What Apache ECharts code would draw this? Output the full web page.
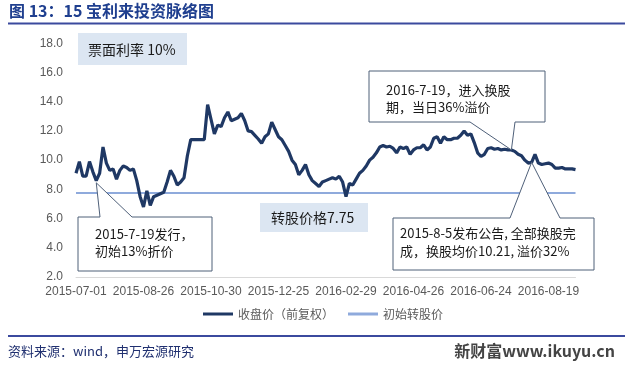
<!DOCTYPE html>
<html><head><meta charset="utf-8">
<script src="https://cdn.jsdelivr.net/npm/echarts@6/dist/echarts.min.js"></script>
<style>html,body{margin:0;padding:0;background:#fff}#c{width:633px;height:367px}</style>
</head><body><div id="c"></div>
<script>
// trading dates (every second trading day)
const dates = [
"2015-07-01","2015-07-03","2015-07-07","2015-07-09","2015-07-13","2015-07-15","2015-07-17","2015-07-21","2015-07-23","2015-07-27",
"2015-07-29","2015-07-31","2015-08-04","2015-08-06","2015-08-10","2015-08-12","2015-08-14","2015-08-18","2015-08-20","2015-08-24",
"2015-08-26","2015-08-28","2015-09-01","2015-09-07","2015-09-09","2015-09-11","2015-09-15","2015-09-17","2015-09-21","2015-09-23",
"2015-09-25","2015-09-29","2015-10-08","2015-10-12","2015-10-14","2015-10-16","2015-10-20","2015-10-22","2015-10-26","2015-10-28",
"2015-10-30","2015-11-03","2015-11-05","2015-11-09","2015-11-11","2015-11-13","2015-11-17","2015-11-19","2015-11-23","2015-11-25",
"2015-11-27","2015-12-01","2015-12-03","2015-12-07","2015-12-09","2015-12-11","2015-12-15","2015-12-17","2015-12-21","2015-12-23",
"2015-12-25","2015-12-29","2015-12-31","2016-01-05","2016-01-07","2016-01-11","2016-01-13","2016-01-15","2016-01-19","2016-01-21",
"2016-01-25","2016-01-27","2016-01-29","2016-02-02","2016-02-04","2016-02-15","2016-02-17","2016-02-19","2016-02-23","2016-02-25",
"2016-02-29","2016-03-02","2016-03-04","2016-03-08","2016-03-10","2016-03-14","2016-03-16","2016-03-18","2016-03-22","2016-03-24",
"2016-03-28","2016-03-30","2016-04-01","2016-04-06","2016-04-08","2016-04-12","2016-04-14","2016-04-18","2016-04-20","2016-04-22",
"2016-04-26","2016-04-28","2016-05-03","2016-05-05","2016-05-09","2016-05-11","2016-05-13","2016-05-17","2016-05-19","2016-05-23",
"2016-05-25","2016-05-27","2016-05-31","2016-06-02","2016-06-06","2016-06-08","2016-06-14","2016-06-16","2016-06-20","2016-06-22",
"2016-06-24","2016-06-28","2016-06-30","2016-07-04","2016-07-06","2016-07-08","2016-07-12","2016-07-14","2016-07-18","2016-07-20",
"2016-07-22","2016-07-26","2016-07-28","2016-08-01","2016-08-03","2016-08-05","2016-08-09","2016-08-11","2016-08-15","2016-08-17",
"2016-08-19","2016-08-23","2016-08-25","2016-08-29","2016-08-31","2016-09-02","2016-09-06","2016-09-08","2016-09-12"
];
// 收盘价（前复权）
const closePrice = [
9.1,9.9,8.9,8.9,9.9,9.2,8.6,9.1,10.9,9.8,
9.3,9.4,8.7,9.3,9.6,9.5,9.3,9.4,8.6,7.5,
6.8,7.9,6.9,7.5,7.6,7.7,7.8,8.5,9.3,8.9,
8.3,8.5,8.8,10.3,11.4,11.4,11.4,11.4,11.4,13.8,
12.8,11.8,12.4,12.3,12.9,13.3,12.7,12.8,12.9,13.2,
12.7,12.0,11.95,11.7,11.45,11.15,11.6,11.8,12.6,12.1,
11.6,11.4,11.0,10.6,10.0,9.7,9.0,9.3,9.7,9.0,
8.6,8.4,8.2,8.5,8.6,8.7,8.8,8.7,8.9,8.5,
7.5,8.4,8.3,8.7,9.1,9.3,9.6,10.0,10.2,10.5,
10.9,11.0,10.9,10.95,10.8,10.5,10.9,10.8,10.9,10.4,
10.7,10.85,10.85,11.05,10.7,10.9,11.5,11.6,11.15,11.6,
11.4,11.4,11.5,11.5,11.7,12.0,11.7,11.8,11.2,10.5,
10.25,10.4,10.8,10.85,10.75,10.8,10.7,10.75,10.7,10.7,
10.6,10.4,10.3,10.0,9.8,9.85,10.4,9.8,9.7,9.75,
9.8,9.7,9.45,9.45,9.5,9.4,9.4,9.4,9.35
];
// 初始转股价
const convPrice = 7.75;
const yMin = 2, yMax = 18, yStep = 2;
const seriesNames = ['收盘价（前复权）', '初始转股价'];
const titleText = '图 13：15 宝利来投资脉络图';
const sourceText = '资料来源：wind，申万宏源研究';
const watermark = '新财富www.ikuyu.cn';
// annotation anchors: [index into dates]
const issueIdx = 6, swapIdx = 129, doneIdx = 135;
const issueAnchorValue = 8.45;

const chart = echarts.init(document.getElementById('c'));
const labelFont = "'Liberation Sans', Arial, sans-serif";
const cjk = "'Noto Sans CJK SC', 'Noto Sans', sans-serif";

chart.setOption({
  animation: false,
  backgroundColor: '#fff',
  grid: { left: 76, right: 57.5, top: 43.3, bottom: 90, containLabel: false },
  legend: {
    left: 198, top: 303, itemGap: 14, itemWidth: 30, itemHeight: 3, icon: 'rect',
    textStyle: { color: '#595959', fontSize: 12, fontFamily: cjk },
    data: seriesNames
  },
  xAxis: {
    type: 'category', data: dates, boundaryGap: false,
    axisLine: { show: true, lineStyle: { color: '#d9d9d9', width: 1 } },
    axisTick: { show: false },
    axisLabel: { interval: 19, color: '#595959', fontSize: 12, fontFamily: labelFont, margin: 9, hideOverlap: false },
    splitLine: { show: false }
  },
  yAxis: {
    type: 'value', min: yMin, max: yMax, interval: yStep,
    axisLine: { show: false }, axisTick: { show: false },
    splitLine: { show: false },
    axisLabel: { color: '#595959', fontSize: 12, fontFamily: labelFont, margin: 13, formatter: v => v.toFixed(1) }
  },
  series: [
    { name: seriesNames[0], type: 'line', data: closePrice, symbol: 'none', z: 3,
      lineStyle: { color: '#1F3864', width: 3.2 }, itemStyle: { color: '#1F3864' } },
    { name: seriesNames[1], type: 'line', symbol: 'none', z: 2,
      data: [[dates[0], convPrice], [dates[dates.length - 1], convPrice]],
      lineStyle: { color: '#8FAADC', width: 2 }, itemStyle: { color: '#8FAADC' } }
  ]
});

function px(i, v) { return chart.convertToPixel({ seriesIndex: 0 }, [dates[i], v]); }
const a1 = px(issueIdx, issueAnchorValue);
const a2 = px(swapIdx, closePrice[swapIdx]);
const a3 = px(doneIdx, closePrice[doneIdx]);

const boxStroke = '#4F6079';
function callout(points) {
  return { type: 'polygon', z: 50, shape: { points: points },
    style: { fill: '#fff', stroke: boxStroke, lineWidth: 1 } };
}
function txt(x, y, t, lh) {
  return { type: 'text', z: 60, x: x, y: y,
    style: { text: t, fill: '#1a1a1a', font: '13px ' + cjk, lineHeight: lh || 17, verticalAlign: 'top' } };
}

chart.setOption({
  graphic: [
    // header
    { type: 'text', left: 9, top: 3, z: 60, style: { text: titleText, fill: '#1F3F8F', font: 'bold 16px ' + cjk } },
    { type: 'line', z: 60, shape: { x1: 8, y1: 23.5, x2: 625, y2: 23.5 }, style: { stroke: '#3B4A9E', lineWidth: 2 } },
    // footer
    { type: 'line', z: 60, shape: { x1: 8, y1: 336, x2: 625, y2: 336 }, style: { stroke: '#3B4A9E', lineWidth: 2 } },
    { type: 'text', left: 8, top: 345, z: 60, style: { text: sourceText, fill: '#203070', font: '13px ' + cjk } },
    { type: 'text', right: 18, top: 343, z: 60, style: { text: watermark, fill: '#444', font: 'bold 16px ' + cjk } },
    // 票面利率 box
    { type: 'rect', z: 40, shape: { x: 78, y: 33, width: 109, height: 32 }, style: { fill: '#DCE6F2' } },
    { type: 'text', z: 60, x: 88, y: 50, style: { text: '票面利率 10%', fill: '#1a1a1a', font: '14px ' + cjk, verticalAlign: 'middle' } },
    // 转股价格 box
    { type: 'rect', z: 40, shape: { x: 260, y: 203, width: 108, height: 29 }, style: { fill: '#DCE6F2' } },
    { type: 'text', z: 60, x: 271, y: 218, style: { text: '转股价格7.75', fill: '#1a1a1a', font: '14px ' + cjk, verticalAlign: 'middle' } },
    // callout 1: issue
    callout([[78, 217], [100, 217], a1, [132, 217], [212, 217], [212, 271], [78, 271]]),
    txt(95, 226, '2015-7-19发行，\n初始13%折价'),
    // callout 2: swap period
    callout([[369, 71], [545, 71], [545, 122], [515, 122], a2, [470, 122], [369, 122]]),
    txt(386, 81.5, '2016-7-19，进入换股\n期，当日36%溢价'),
    // callout 3: done
    callout([[393, 218], [510, 218], a3, [560, 218], [594, 218], [594, 270], [393, 270]]),
    txt(400, 224, '2015-8-5发布公告, 全部换股完\n成，换股均价10.21, 溢价32%', 18)
  ]
});
</script>
</body></html>
